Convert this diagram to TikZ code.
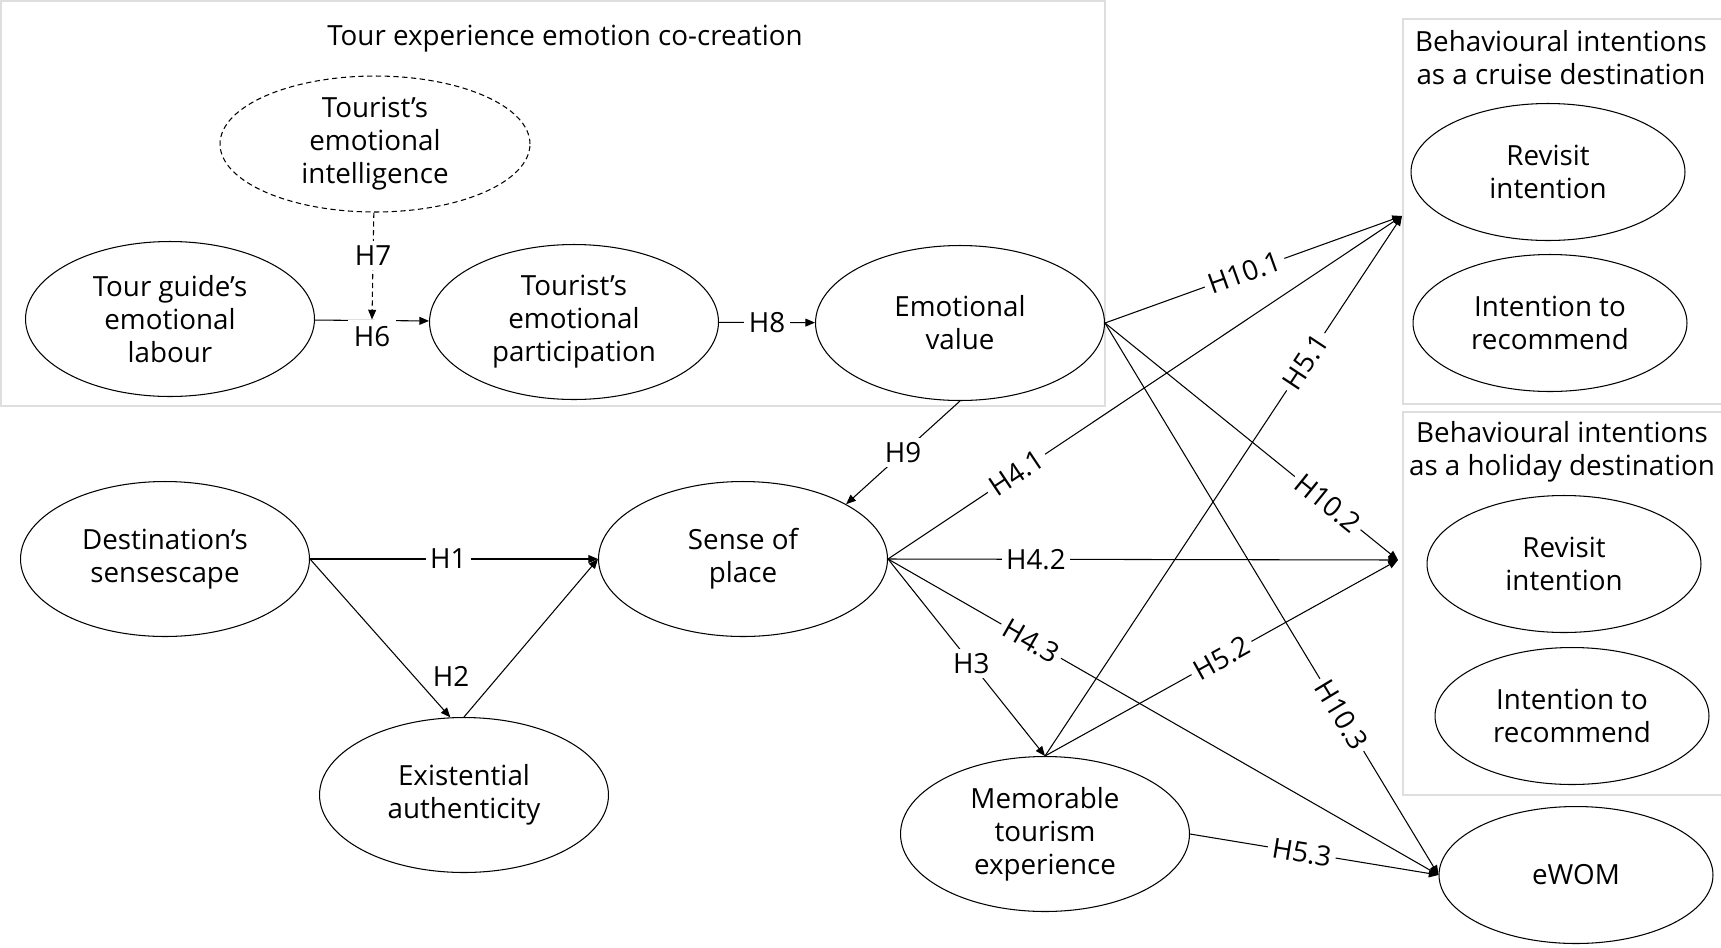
\documentclass[tikz,border=0pt]{standalone}
\usepackage{fontspec}
\setmainfont{Open Sans}
\usetikzlibrary{shapes.geometric, arrows.meta, positioning}

\tikzset{
  construct/.style={draw, ellipse, inner sep=0pt, line width=0.6pt,
    minimum width=5.78cm, minimum height=3.1cm, align=center},
  outcome/.style={construct, minimum width=5.48cm, minimum height=2.74cm},
  hyp/.style={fill=white, inner sep=2.5pt},
  heading/.style={align=center},
  link/.style={-{Triangle[length=5.5pt,width=4.5pt]}, line width=0.6pt},
  frame/.style={draw=black!13, line width=1.1pt},
}

\begin{document}
\begin{tikzpicture}[x=0.02cm, y=-0.02cm, font=\fontsize{15.8}{18.8}\selectfont]
\useasboundingbox (0,0) rectangle (1721,947);

% grouping frames
\draw[frame] (1,1) rectangle (1105,406);
\draw[frame] (1403,19) rectangle (1730,404);
\draw[frame] (1403,412) rectangle (1730,795);
\node[heading] (cocreation) at (565,39) {Tour experience emotion co-creation};
\node[heading] (cruisehead) at (1561,58) {Behavioural intentions\\as a cruise destination};
\node[heading] (holidayhead) at (1562,452) {Behavioural intentions\\as a holiday destination};

% constructs
\node[construct, dash pattern=on 3pt off 2pt, minimum width=6.2cm, minimum height=2.72cm]
  (intel) at (375,144) {Tourist's\\emotional\\intelligence};
\node[construct] (labour) at (170,319) {Tour guide's\\emotional\\labour};
\node[construct] (particip) at (574,322) {Tourist's\\emotional\\participation};
\node[construct] (emoval) at (960,323) {Emotional\\value};
\node[construct] (sense) at (165,559) {Destination's\\sensescape};
\node[construct] (place) at (743,559) {Sense of\\place};
\node[construct] (exist) at (464,795) {Existential\\authenticity};
\node[construct] (memor) at (1045,834) {Memorable\\tourism\\experience};

% outcomes
\node[outcome] (revisitc) at (1548,172) {Revisit\\intention};
\node[outcome] (recommc) at (1550,323) {Intention to\\recommend};
\node[outcome] (revisith) at (1564,564) {Revisit\\intention};
\node[outcome] (recommh) at (1572,716) {Intention to\\recommend};
\node[outcome] (ewom) at (1576,875) {eWOM};

\coordinate (cruisein) at (1402,216);
\coordinate (holidayin) at (1398,560);

% paths
\draw[link] (labour) -- node[hyp, inner sep=3.5pt, yshift=-9pt] (h6) {H6} (particip);
\draw[link, dash pattern=on 3pt off 2pt] (intel) -- node[hyp, pos=0.4] (h7) {H7} (h6.north);
\draw[link] (particip) -- node[hyp] (h8) {H8} (emoval);
\draw[link] (emoval.south) -- node[hyp] (h9) {H9} (place.28);
\draw[link] (sense.east) -- node[hyp, pos=0.48] (h1) {H1} (place.west);
\draw[link] (sense.east) -- (exist.100);
\node (h2) at (451,676) {H2};
\draw[link] (exist.north) -- (place.west);
\draw[link] (place.east) -- node[hyp, pos=0.53] (h3) {H3} (memor.north);
\draw[link] (place.east) -- node[hyp, sloped, pos=0.25] (h41) {H4.1} (cruisein);
\draw[link] (place.east) -- node[hyp, pos=0.29] (h42) {H4.2} (holidayin);
\draw[link] (place.east) -- node[hyp, sloped, pos=0.26] (h43) {H4.3} (ewom.west);
\draw[link] (memor.north) -- node[hyp, sloped, pos=0.73] (h51) {H5.1} (cruisein);
\draw[link] (memor.north) -- node[hyp, sloped, pos=0.5] (h52) {H5.2} (holidayin);
\draw[link] (memor.east) -- node[hyp, sloped, pos=0.45] (h53) {H5.3} (ewom.west);
\draw[link] (emoval.east) -- node[hyp, sloped, pos=0.47] (h101) {H10.1} (cruisein);
\draw[link] (emoval.east) -- node[hyp, sloped, pos=0.76] (h102) {H10.2} (holidayin);
\draw[link] (emoval.east) -- node[hyp, sloped, pos=0.71] (h103) {H10.3} (ewom.west);
\end{tikzpicture}
\end{document}
